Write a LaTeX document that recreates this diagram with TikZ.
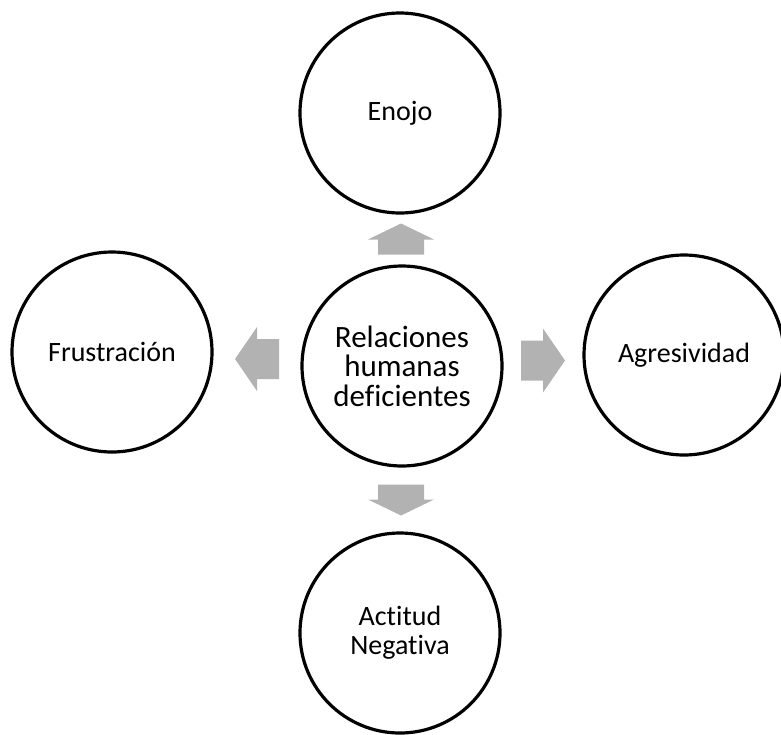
\documentclass[tikz,border=0pt]{standalone}
\usepackage{fontspec}
\setmainfont[Ligatures=NoCommon]{Carlito}
\usetikzlibrary{calc}
\begin{document}
\begin{tikzpicture}[x=1pt,y=-1pt,
  bubble/.style={circle, draw=black, line width=3.2pt, minimum size=200pt, inner sep=0pt, align=center, font=\fontsize{28}{29}\selectfont},
  hub/.style={bubble, font=\fontsize{31}{29.5}\selectfont},
  arrowfill/.style={fill=black!30},
  harrow/.pic={\fill[arrowfill] (-22,-20) -- (0,-20) -- (0,-32) -- (22,0) -- (0,32) -- (0,20) -- (-22,20) -- cycle;},
  varrow/.pic={\fill[arrowfill] (-15,-23) -- (0,-23) -- (0,-33) -- (16,0) -- (0,33) -- (0,23) -- (-15,23) -- cycle;}
]
\useasboundingbox (0,0) rectangle (781,734);
\node[hub] (C) at (402,366) {Relaciones\\humanas\\deficientes};
\node[bubble] (T) at (400,113) {Enojo};
\node[bubble] (B) at (400,633) {Actitud\\Negativa};
\node[bubble] (L) at (112,352) {Frustración};
\node[bubble] (R) at (684,355) {Agresividad};
\pic[rotate=90] (up) at ($(C)!0.5!(T)$) {varrow};
\pic[rotate=-90] (down) at ($(C)!0.5!(B)$) {varrow};
\pic[rotate=180] (left) at ($(C)!0.5!(L)$) {harrow};
\pic (right) at ($(C)!0.5!(R)$) {harrow};
\end{tikzpicture}
\end{document}
